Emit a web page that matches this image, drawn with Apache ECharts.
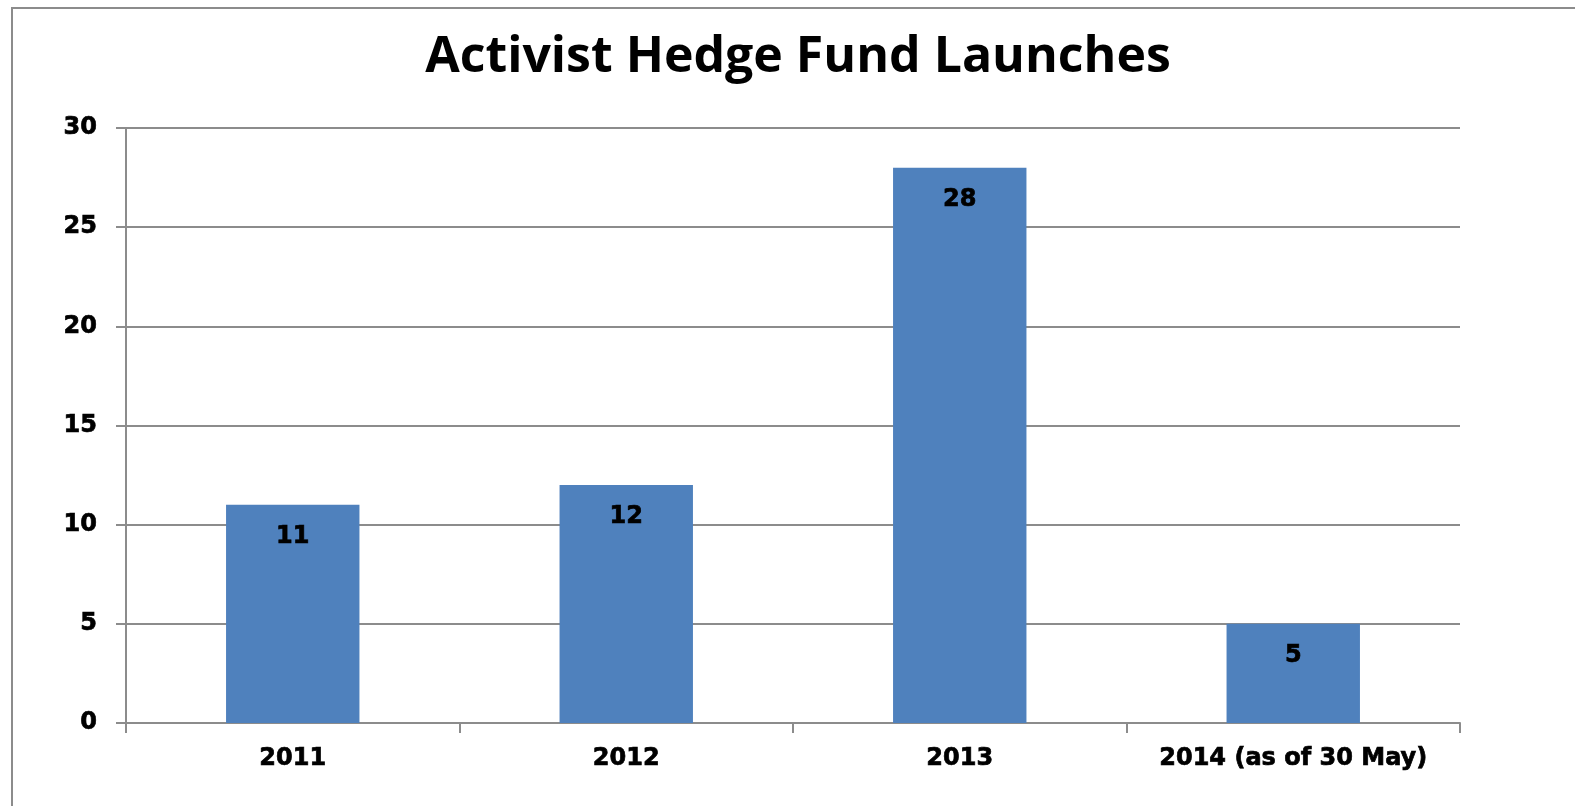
<!DOCTYPE html>
<html>
<head>
<meta charset="utf-8">
<script src="https://cdn.jsdelivr.net/npm/echarts@6/dist/echarts.min.js"></script>
<style>
  html, body { margin: 0; padding: 0; background: #fff; }
  #chart { width: 1575px; height: 806px; }
</style>
</head>
<body>
<div id="chart"></div>
<script>
// Activist hedge fund launches per year
const chartTitle = 'Activist Hedge Fund Launches';
const years = ['2011', '2012', '2013', '2014 (as of 30 May)'];
const launches = [11, 12, 28, 5];
const yTicks = { min: 0, max: 30, step: 5 };

const gray = '#8c8c8c';
// heavy bold text: a thin outline in the same colour thickens the strokes
const labelFont = {
  fontFamily: 'DejaVu Sans', fontWeight: 'bold', fontSize: 24, color: '#000',
  textBorderColor: '#000', textBorderWidth: 0.7
};

const chart = echarts.init(document.getElementById('chart'), null, { renderer: 'canvas' });
chart.setOption({
  animation: false,
  backgroundColor: '#fff',
  title: {
    text: chartTitle,
    left: 793,
    top: 28,
    textAlign: 'center',
    textStyle: { fontFamily: 'Open Sans', fontWeight: 'bold', fontSize: 50, color: '#000' }
  },
  graphic: [{
    type: 'rect',
    silent: true,
    shape: { x: 12, y: 8, width: 1700, height: 900 },
    style: { fill: 'none', stroke: gray, lineWidth: 2 }
  }],
  grid: { left: 126, right: 115, top: 128, bottom: 83, containLabel: false },
  xAxis: {
    type: 'category',
    data: years,
    boundaryGap: true,
    axisLine: { lineStyle: { color: gray, width: 2 } },
    axisTick: { show: true, length: 10, lineStyle: { color: gray, width: 2 } },
    axisLabel: Object.assign({ margin: 24, interval: 0 }, labelFont)
  },
  yAxis: {
    type: 'value',
    min: yTicks.min,
    max: yTicks.max,
    interval: yTicks.step,
    axisLine: { show: true, lineStyle: { color: gray, width: 2 } },
    axisTick: { show: true, length: 10, lineStyle: { color: gray, width: 2 } },
    splitLine: { lineStyle: { color: gray, width: 2 } },
    axisLabel: Object.assign({ margin: 29 }, labelFont)
  },
  series: [{
    type: 'bar',
    data: launches,
    barWidth: '40%',
    itemStyle: { color: '#4f81bd' },
    label: Object.assign({ show: true, position: 'insideTop', distance: 20 }, labelFont)
  }]
});
</script>
</body>
</html>
